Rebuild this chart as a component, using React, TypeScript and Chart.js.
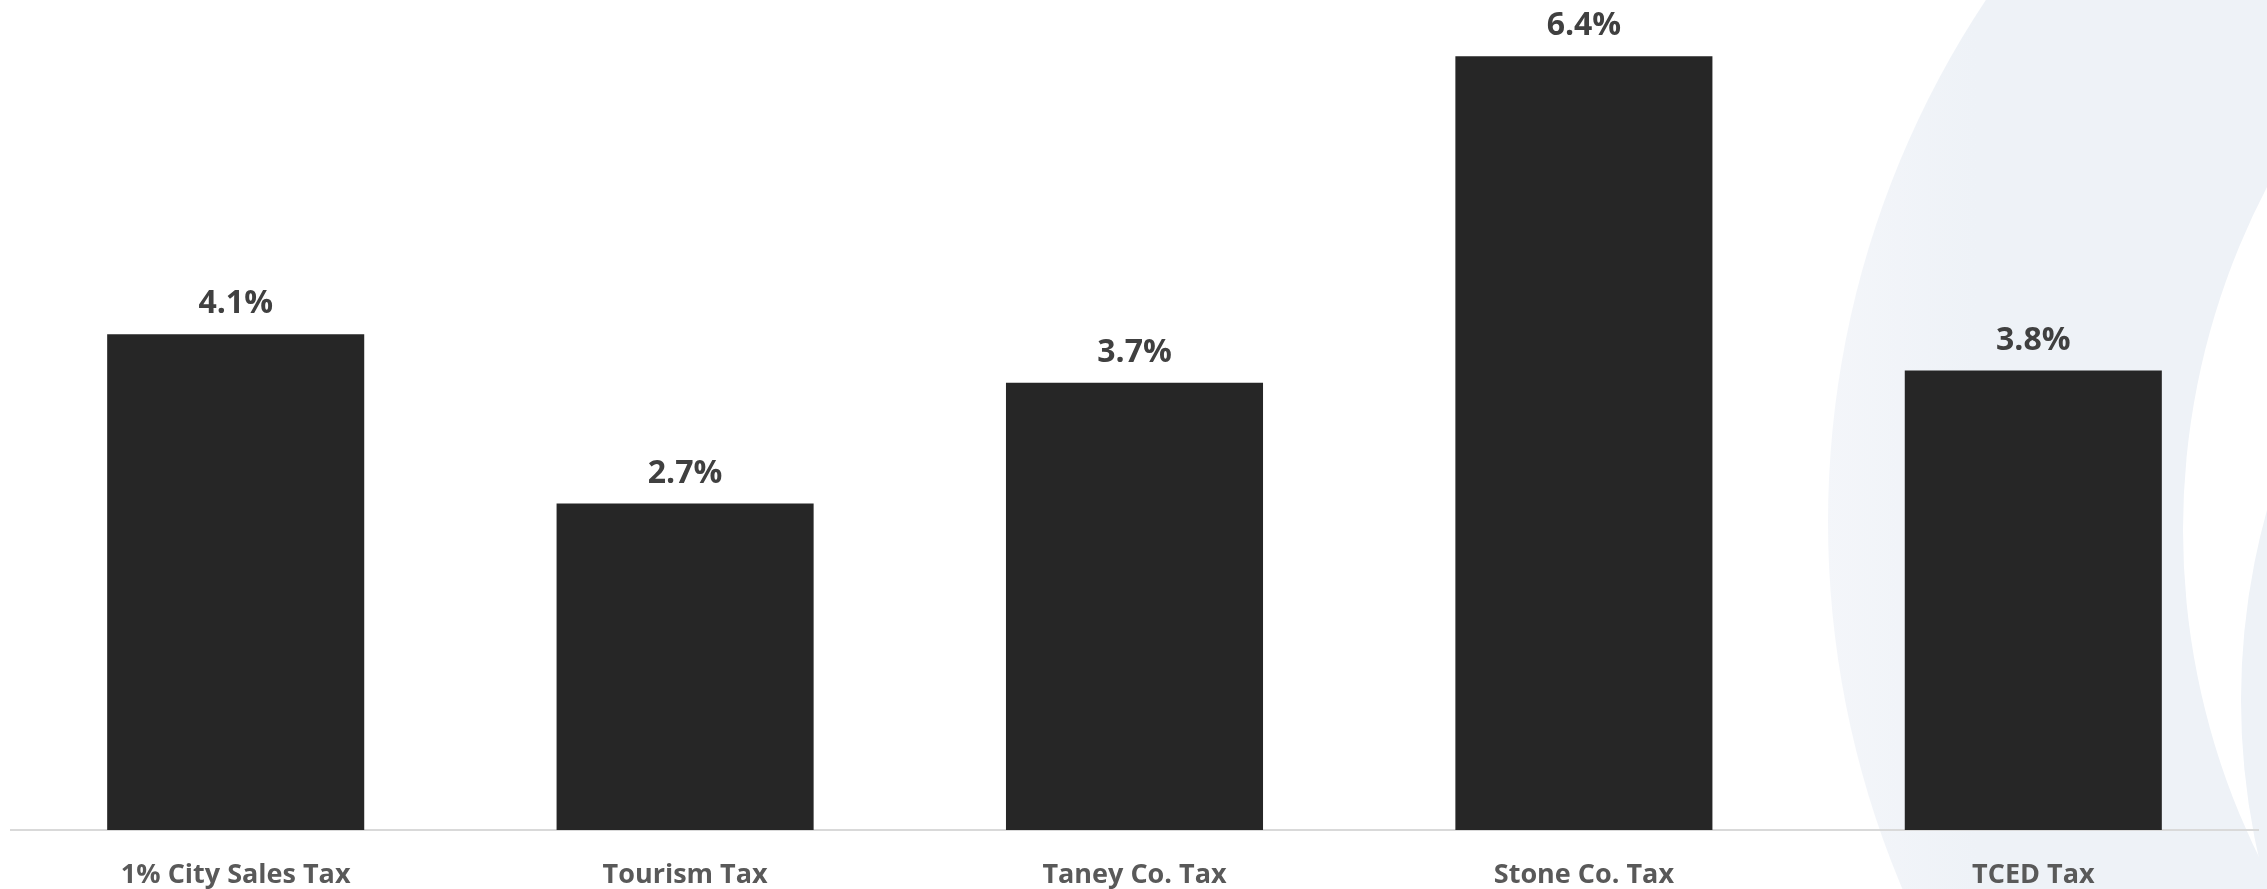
import React, { useEffect, useRef } from "react";
import { Chart, registerables } from "chart.js";

Chart.register(...registerables);

const categories = ["1% City Sales Tax", "Tourism Tax", "Taney Co. Tax", "Stone Co. Tax", "TCED Tax"];
const values = [4.1, 2.7, 3.7, 6.4, 3.8];
const valueLabels = ["4.1%", "2.7%", "3.7%", "6.4%", "3.8%"];

const W = 2267;
const H = 889;

const backgroundPlugin = {
  id: "bgArcs",
  beforeDraw(chart: any) {
    const ctx = chart.ctx;
    ctx.save();
    ctx.fillStyle = "#ffffff";
    ctx.fillRect(0, 0, chart.width, chart.height);
    const g = ctx.createLinearGradient(1820, 0, 2267, 0);
    g.addColorStop(0, "#F4F6FA");
    g.addColorStop(0.35, "#EEF2F7");
    g.addColorStop(1, "#EEF2F7");
    ctx.fillStyle = g;
    ctx.beginPath();
    ctx.arc(2770, 522, 942, 0, Math.PI * 2);
    ctx.fill();
    ctx.fillStyle = "#ffffff";
    ctx.beginPath();
    ctx.arc(2925, 530, 742, 0, Math.PI * 2);
    ctx.fill();
    ctx.fillStyle = "#EEF2F7";
    ctx.beginPath();
    ctx.arc(2948, 700, 707, 0, Math.PI * 2);
    ctx.fill();
    ctx.restore();
  },
};

const dataLabelPlugin = {
  id: "valueLabels",
  afterDatasetsDraw(chart: any) {
    const ctx = chart.ctx;
    const meta = chart.getDatasetMeta(0);
    ctx.save();
    ctx.font = "bold 32px 'Open Sans'";
    ctx.fillStyle = "#404040";
    ctx.textAlign = "center";
    ctx.textBaseline = "alphabetic";
    meta.data.forEach((bar: any, i: number) => {
      ctx.fillText(valueLabels[i], bar.x, bar.y - 21);
    });
    ctx.restore();
  },
};

export default function App() {
  const ref = useRef<HTMLCanvasElement>(null);
  useEffect(() => {
    if (!ref.current) return;
    const chart = new Chart(ref.current, {
      type: "bar",
      data: {
        labels: categories,
        datasets: [
          {
            data: values,
            backgroundColor: "#262626",
            borderWidth: 0,
            categoryPercentage: 1,
            barPercentage: 0.572,
          },
        ],
      },
      options: {
        responsive: false,
        animation: false,
        devicePixelRatio: 1,
        layout: { padding: { left: 11, right: 9, top: 0, bottom: 0 } },
        plugins: { legend: { display: false }, tooltip: { enabled: false } },
        scales: {
          x: {
            grid: { display: false, drawTicks: false },
            border: { display: true, color: "#D9D9D9", width: 2 },
            ticks: {
              color: "#595959",
              font: { family: "'Open Sans'", weight: "bold", size: 27 },
              padding: 29,
              maxRotation: 0,
              autoSkip: false,
            },
            afterFit(scale: any) {
              scale.height = 59;
            },
          },
          y: {
            display: false,
            min: 0,
            max: 6.865,
          },
        },
      },
      plugins: [backgroundPlugin, dataLabelPlugin],
    });
    return () => chart.destroy();
  }, []);
  return (
    <div style={{ position: "absolute", left: 0, top: 0, width: W, height: H }}>
      <canvas ref={ref} width={W} height={H} style={{ width: W, height: H, display: "block" }} />
    </div>
  );
}
